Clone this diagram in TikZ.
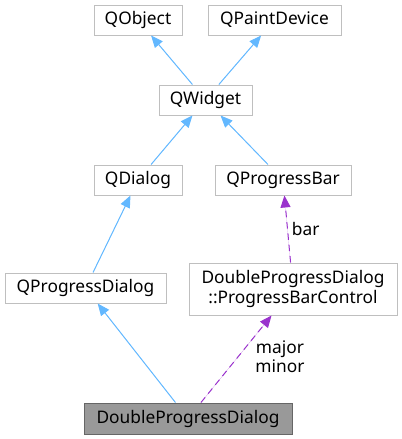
\documentclass[tikz,border=0pt]{standalone}
\usepackage{fontspec}
\setmainfont{Noto Sans}
\usetikzlibrary{arrows.meta}
\definecolor{inhblue}{HTML}{63B8FF}
\definecolor{usepurple}{HTML}{9A32CD}
\definecolor{boxgray}{HTML}{BFBFBF}
\begin{document}
\begin{tikzpicture}
    [x={(0.75pt,0pt)}, y={(0pt,-0.75pt)},
     cls/.style={draw=boxgray, line width=0.75pt, minimum height=22.5pt, inner sep=0pt,
       font=\fontsize{13}{15}\selectfont, align=center},
     inh/.style={-{Triangle[length=9pt,width=7.5pt]}, draw=inhblue, fill=inhblue, line width=0.75pt},
     usage/.style={-{Triangle[length=9pt,width=7.5pt]}, draw=usepurple, fill=usepurple, line width=0.75pt,
       dash pattern=on 5pt off 3.5pt},
     lbl/.style={font=\fontsize{13}{14.5}\selectfont, align=center, inner sep=2pt}]
    \useasboundingbox (0,0) rectangle (402,439);
    \node[cls, minimum width=66pt] (qobject) at (138,20) {QObject};
    \node[cls, minimum width=99.75pt] (qpaintdevice) at (274.5,20) {QPaintDevice};
    \node[cls, minimum width=69.75pt] (qwidget) at (205.5,100) {QWidget};
    \node[cls, minimum width=66pt] (qdialog) at (138,180) {QDialog};
    \node[cls, minimum width=102pt] (qprogressbar) at (283,180) {QProgressBar};
    \node[cls, minimum width=120.75pt] (qprogressdialog) at (85.5,288) {QProgressDialog};
    \node[cls, minimum width=156pt, minimum height=39pt] (barcontrol) at (293,289)
      {DoubleProgressDialog\\::ProgressBarControl};
    \node[cls, minimum width=156pt, minimum height=23.25pt, draw=black!60, fill=black!40] (dpd) at (188,418.5)
      {DoubleProgressDialog};

    \draw[inh] (qwidget) -- (qobject);
    \draw[inh] (qwidget) -- (qpaintdevice);
    \draw[inh] (qdialog) -- (qwidget);
    \draw[inh] (qprogressbar) -- (qwidget);
    \draw[inh] (qprogressdialog) -- (qdialog);
    \draw[inh] (dpd) -- (qprogressdialog);
    \draw[usage] (barcontrol) -- (qprogressbar) node[lbl, midway, right, xshift=1pt, fill=none, text=black]{bar};
    \draw[usage] (dpd) -- (barcontrol) node[lbl, midway, right, xshift=12pt, yshift=1.5pt, fill=none, text=black]{major\\minor};
  \end{tikzpicture}
\end{document}
